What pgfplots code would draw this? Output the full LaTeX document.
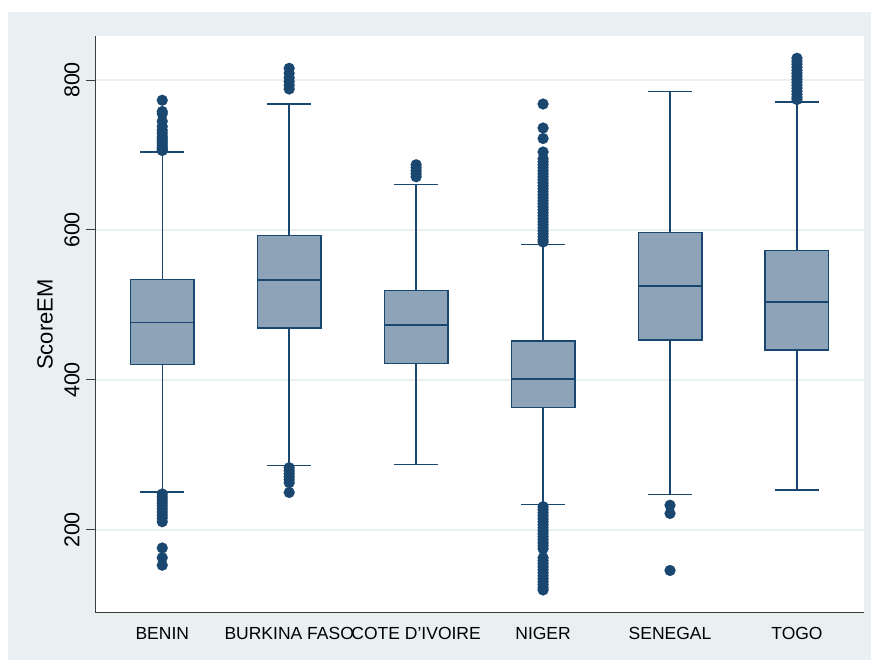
\documentclass[border=0pt]{standalone}
\usepackage{pgfplots}
\pgfplotsset{compat=1.18}
\usepackage{fontspec}
\setmainfont{Liberation Sans}
\definecolor{navyc}{RGB}{26,71,111}
\definecolor{boxfill}{RGB}{141,164,184}
\definecolor{bgc}{RGB}{232,240,242}
\definecolor{gridc}{RGB}{232,240,242}
\definecolor{axisc}{RGB}{60,60,60}
\pgfplotsset{
  bx/.style={draw=navyc, fill=boxfill, line width=1.5pt, mark=none},
  ln/.style={draw=navyc, line width=1.5pt, mark=none},
  ol/.style={only marks, mark=*, mark size=5.5pt, mark options={fill=navyc, draw=navyc, line width=0.1pt}},
}
\begin{document}
\begin{tikzpicture}
\fill[white] (-96pt,-47pt) rectangle (775pt,613pt);
\fill[bgc] (-88pt,-47pt) rectangle (775pt,601pt);
\fill[white] (0pt,0pt) rectangle (768pt,577pt);
\begin{axis}[
  at={(0pt,0pt)}, anchor=south west,
  scale only axis, width=768pt, height=577pt,
  xmin=0.478, xmax=6.528, ymin=89.3, ymax=858.7,
  axis x line*=bottom, axis y line*=left,
  axis line style={draw=axisc, line width=1pt},
  xtick={1,2,3,4,5,6},
  xticklabels={BENIN, BURKINA FASO, COTE D'IVOIRE, NIGER, SENEGAL, TOGO},
  ytick={200,400,600,800},
  ymajorgrids, grid style={draw=gridc, line width=1.5pt},
  tick align=outside, major tick length=10pt,
  xtick style={draw=none},
  ytick style={draw=axisc, line width=1pt},
  /pgf/number format/assume math mode=true,
  x tick label style={font=\fontsize{17.5}{19}\selectfont},
  xticklabel shift=1pt,
  y tick label style={font=\fontsize{21.5}{23}\selectfont, rotate=90, anchor=south},
  yticklabel shift=3pt,
  ylabel={ScoreEM},
  ylabel style={font=\fontsize{22}{24}\selectfont, at={(axis description cs:-0.0664,0.5)}, anchor=center},
  unbounded coords=jump,
]
% ---------- boxes: (x-0.25,Q1) to (x+0.25,Q3)
\addplot[bx] coordinates {(0.75,420.9) (1.25,420.9) (1.25,534.2) (0.75,534.2)} -- cycle;
\addplot[bx] coordinates {(1.75,469.5) (2.25,469.5) (2.25,592.4) (1.75,592.4)} -- cycle;
\addplot[bx] coordinates {(2.75,422.2) (3.25,422.2) (3.25,519.1) (2.75,519.1)} -- cycle;
\addplot[bx] coordinates {(3.75,363.6) (4.25,363.6) (4.25,452.0) (3.75,452.0)} -- cycle;
\addplot[bx] coordinates {(4.75,453.5) (5.25,453.5) (5.25,596.9) (4.75,596.9)} -- cycle;
\addplot[bx] coordinates {(5.75,440.0) (6.25,440.0) (6.25,572.9) (5.75,572.9)} -- cycle;
% ---------- medians
\addplot[ln] coordinates {(0.75,476.4) (1.25,476.4) (1.75,nan) (1.75,533.3) (2.25,533.3) (2.75,nan) (2.75,473.3) (3.25,473.3) (3.75,nan) (3.75,401.3) (4.25,401.3) (4.75,nan) (4.75,525.3) (5.25,525.3) (5.75,nan) (5.75,504.0) (6.25,504.0)};
% ---------- whiskers and caps
% BENIN
\addplot[ln] coordinates {(1,534.2) (1,704) (1,nan) (0.825,704) (1.175,704) (1,nan) (1,420.9) (1,250.7) (1,nan) (0.825,250.7) (1.175,250.7)};
% BURKINA FASO
\addplot[ln] coordinates {(2,592.4) (2,768) (2,nan) (1.825,768) (2.175,768) (2,nan) (2,469.5) (2,286.2) (2,nan) (1.825,286.2) (2.175,286.2)};
% COTE D'IVOIRE
\addplot[ln] coordinates {(3,519.1) (3,660.9) (3,nan) (2.825,660.9) (3.175,660.9) (3,nan) (3,422.2) (3,287.6) (3,nan) (2.825,287.6) (3.175,287.6)};
% NIGER
\addplot[ln] coordinates {(4,452.0) (4,580.9) (4,nan) (3.825,580.9) (4.175,580.9) (4,nan) (4,363.6) (4,234.2) (4,nan) (3.825,234.2) (4.175,234.2)};
% SENEGAL
\addplot[ln] coordinates {(5,596.9) (5,784.4) (5,nan) (4.825,784.4) (5.175,784.4) (5,nan) (5,453.5) (5,247.6) (5,nan) (4.825,247.6) (5.175,247.6)};
% TOGO
\addplot[ln] coordinates {(6,572.9) (6,770.7) (6,nan) (5.825,770.7) (6.175,770.7) (6,nan) (6,440.0) (6,253.3) (6,nan) (5.825,253.3) (6.175,253.3)};
% ---------- outliers
\addplot[ol] coordinates {(1,773) (1,758) (1,755) (1,745) (1,738) (1,733) (1,729) (1,725) (1,722) (1,719) (1,716) (1,713) (1,710) (1,708) (1,706)
(1,248) (1,244) (1,240) (1,236) (1,232) (1,228) (1,224) (1,220) (1,216) (1,211) (1,176) (1,163) (1,153)};
\addplot[ol] coordinates {(2,815.6) (2,809) (2,803) (2,798) (2,793) (2,788)
(2,283) (2,279) (2,275) (2,271) (2,267) (2,263) (2,250)};
\addplot[ol] coordinates {(3,687) (3,683) (3,679) (3,675) (3,671)};
\addplot[ol] coordinates {(4,768) (4,736) (4,722) (4,704) (4,695) (4,691) (4,687) (4,683) (4,679) (4,675) (4,671) (4,667) (4,663) (4,659) (4,655) (4,651) (4,647) (4,643) (4,639) (4,635) (4,631) (4,627) (4,623) (4,619) (4,615) (4,611) (4,607) (4,603) (4,599) (4,595) (4,591) (4,587) (4,584)
(4,231) (4,227) (4,223) (4,219) (4,215) (4,211) (4,207) (4,203) (4,199) (4,195) (4,191) (4,187) (4,183) (4,179) (4,175)
(4,163) (4,159) (4,155) (4,151) (4,147) (4,143) (4,139) (4,135) (4,131) (4,127) (4,123) (4,120)};
\addplot[ol] coordinates {(5,233) (5,222) (5,146)};
\addplot[ol] coordinates {(6,829) (6,825) (6,821) (6,817) (6,813) (6,809) (6,805) (6,801) (6,797) (6,793) (6,789) (6,785) (6,781) (6,777) (6,774)};
\end{axis}
\end{tikzpicture}
\end{document}
